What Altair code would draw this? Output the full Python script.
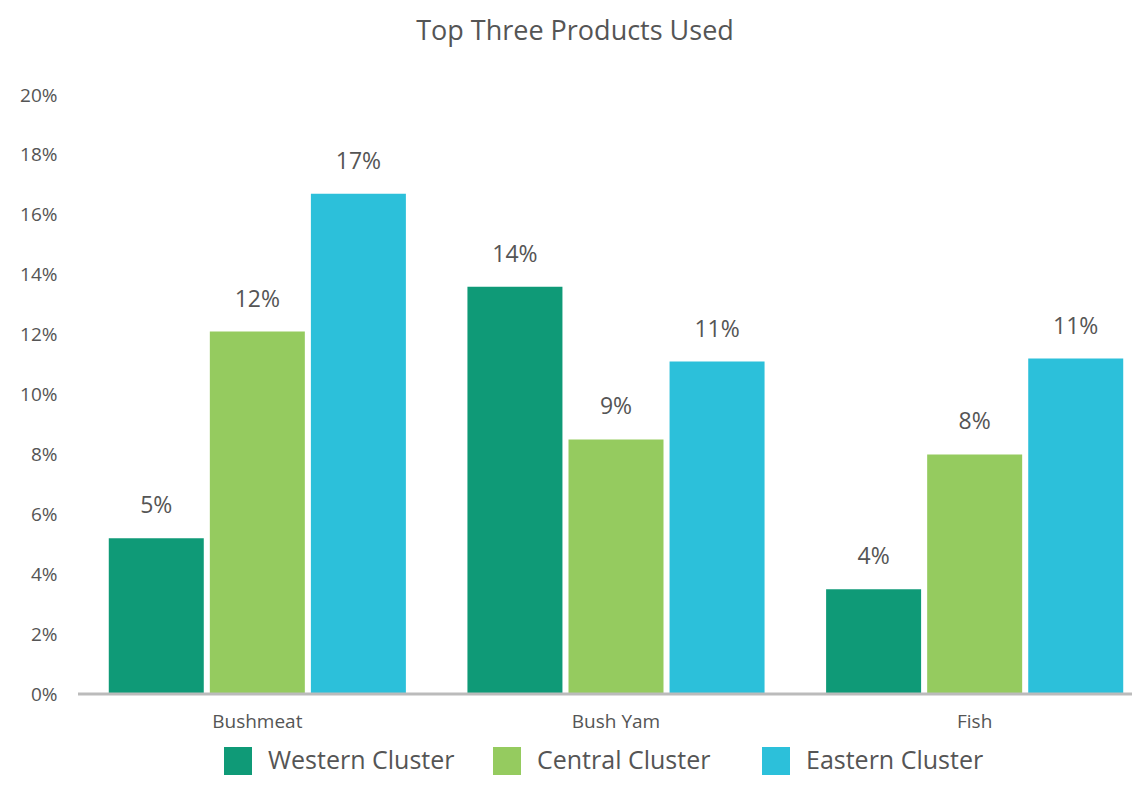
import altair as alt
import pandas as pd

categories = ["Bushmeat", "Bush Yam", "Fish"]
series = ["Western Cluster", "Central Cluster", "Eastern Cluster"]
western = [5.2, 13.6, 3.5]
central = [12.1, 8.5, 8.0]
eastern = [16.7, 11.1, 11.2]
colors = ["#0F9A77", "#95CB5F", "#2CC0DA"]

rows = []
for s, vals in zip(series, [western, central, eastern]):
    for c, v in zip(categories, vals):
        rows.append({"product": c, "cluster": s, "value": v})
df = pd.DataFrame(rows)

FONT = "Open Sans"
TXT = "#555555"

x_enc = alt.X("product:N", sort=categories, title=None,
              scale=alt.Scale(range=[0, 1076], paddingInner=0.1716, paddingOuter=0.0858),
              axis=alt.Axis(labelAngle=0, labelFontSize=19, labelColor=TXT, labelFont=FONT,
                            ticks=False, domain=False, labelPadding=18))
xo_enc = alt.XOffset("cluster:N", sort=series, scale=alt.Scale(paddingInner=0.06))


def y_enc(field):
    return alt.Y(field, title=None,
                 scale=alt.Scale(domain=[0, 20], nice=False),
                 axis=alt.Axis(values=list(range(0, 21, 2)), labelExpr="datum.value + '%'",
                               labelFontSize=19, labelColor=TXT, labelFont=FONT,
                               ticks=False, domain=False, grid=False, labelPadding=21))


base = alt.Chart(df)

bars = base.mark_bar().encode(
    x=x_enc, xOffset=xo_enc, y=y_enc("value:Q"),
    color=alt.Color("cluster:N", sort=series,
                    scale=alt.Scale(domain=series, range=colors),
                    legend=alt.Legend(title=None, orient="none", direction="horizontal",
                                      legendX=146, legendY=652, symbolType="square",
                                      symbolSize=784, symbolStrokeWidth=0, symbolOpacity=1,
                                      labelFontSize=25, labelColor=TXT, labelFont=FONT,
                                      labelLimit=400, labelOffset=16, columnPadding=38,
                                      gridAlign="all", padding=0)),
)

labels = base.transform_calculate(
    lbl="round(datum.value) + '%'"
).mark_text(dy=-20, fontSize=23, color=TXT, font=FONT, baseline="bottom").encode(
    x=x_enc, xOffset=xo_enc, y=y_enc("value:Q"), text="lbl:N"
)

baseline = alt.Chart(pd.DataFrame({"v": [0]})).mark_rule(color="#BBBBBB", strokeWidth=3).encode(
    y=y_enc("v:Q")
)

chart = alt.layer(bars, labels, baseline).properties(
    width=1054, height=599,
    title=alt.Title("Top Three Products Used", fontSize=27, color=TXT, font=FONT,
                    fontWeight="normal", anchor="middle", offset=40, dx=-30),
    autosize=alt.AutoSizeParams(type="none"),
    padding={"left": 70, "top": 87, "right": 0, "bottom": 83},
).configure_view(stroke=None)

chart.save("out.html", embed_options={"renderer": "svg", "actions": False})
